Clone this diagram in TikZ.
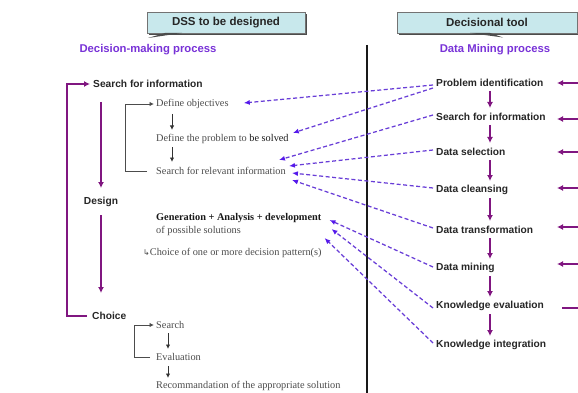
\documentclass[tikz,border=0pt]{standalone}
\usepackage{fontspec}
\setmainfont{Liberation Serif}
\setsansfont{Liberation Sans}
\newfontfamily\symfont{DejaVu Sans}
\usetikzlibrary{arrows.meta}

\definecolor{plum}{RGB}{128,22,128}
\definecolor{linkviolet}{RGB}{105,62,215}
\definecolor{linktip}{RGB}{85,25,235}
\definecolor{headviolet}{RGB}{120,50,215}
\definecolor{calloutfill}{RGB}{200,232,236}
\definecolor{serifgray}{RGB}{75,75,75}

\tikzset{
  heading/.style={font=\sffamily\bfseries\fontsize{11.3}{13}\selectfont, text=headviolet, inner sep=0pt},
  boxtitle/.style={font=\sffamily\bfseries\fontsize{11.5}{13}\selectfont, text=black!85, inner sep=0pt},
  stage/.style={font=\sffamily\bfseries\fontsize{10.2}{12}\selectfont, text=black!85, anchor=west, inner sep=0pt},
  task/.style={font=\fontsize{10.3}{12}\selectfont, text=serifgray, anchor=west, inner sep=0pt},
  flow/.style={plum, line width=1.8pt, -{Latex[length=6pt,width=6pt]}},
  bracket/.style={plum, line width=2.3pt, line join=miter},
  substep/.style={black!80, line width=0.9pt, -{Latex[length=4.5pt,width=4.5pt]}},
  subbracket/.style={black!70, line width=0.9pt, -{Latex[length=4.5pt,width=4.5pt]}},
  link/.style={linkviolet, line width=1.25pt, dash pattern=on 4pt off 2.5pt,
    -{Latex[length=6pt,width=5pt,color=linktip]}},
  callout/.style={fill=calloutfill, draw=black!55, line width=0.6pt},
  callshadow/.style={fill=black!70, draw=none}
}

\begin{document}
\begin{tikzpicture}[x=1pt,y=-1pt]
\useasboundingbox (0,0) rectangle (578,393);

% callout boxes
\fill[callshadow] (149,14) rectangle (307,35);
\draw[callout] (147,12) rectangle (305,33);
\fill[callshadow] (165,33) -- (182,33) -- (148,38) -- cycle;
\node[boxtitle] (dss) at (226,22.5) {DSS to be designed};

\fill[callshadow] (399,14) rectangle (578,35);
\draw[callout] (397,12) rectangle (577,33);
\fill[callshadow] (470,33) -- (490,33) -- (503,37.5) -- cycle;
\node[boxtitle] (tool) at (487,22.5) {Decisional tool};

% column headings
\node[heading] (dmp) at (148,50) {Decision-making process};
\node[heading] (dmining) at (495,50) {Data Mining process};

% divider
\coordinate (divtop) at (367,45);
\coordinate (divbot) at (367,395);
\draw[black!90, line width=1.6pt] (divtop) -- (divbot);

% decision-making stages
\node[stage] (sfi) at (93,84) {Search for information};
\node[stage, anchor=center] (design) at (101,202) {Design};
\node[stage] (choice) at (92,316) {Choice};

\node[task] (obj) at (156,104) {Define objectives};
\node[task] (prob) at (156,139) {Define the problem to \textcolor{black!90}{be solved}};
\node[task] (rel) at (156,171) {Search for relevant information};
\node[task, font=\bfseries\fontsize{10.3}{12}\selectfont, text=black!90] (gen) at (156,218) {Generation + Analysis + development};
\node[task] (poss) at (156,231) {of possible solutions};
\node[task] (pat) at (143,253) {{\symfont\fontsize{8}{9}\selectfont ↳}Choice of one or more decision pattern(s)};
\node[task] (srch) at (156,325) {Search};
\node[task] (eval) at (156,357) {Evaluation};
\node[task] (rec) at (156,386) {Recommandation of the appropriate solution};

% purple outer loop
\coordinate (lb) at (67,0);
\draw[bracket, -{Latex[length=6pt,width=6pt]}] ([xshift=-5pt]choice.west) -- (choice.west -| lb) -- (sfi.west -| lb) -- ([xshift=-3pt]sfi.west);
\draw[flow] ([yshift=100pt]design.center) -- ([yshift=14pt]design.center);
\draw[flow] ([yshift=-13pt]design.center) -- ([yshift=-91pt]design.center);

% black sub-brackets
\coordinate (sb1) at (125,0);
\draw[subbracket] ([xshift=-9pt]rel.west) -- (rel.west -| sb1) -- (obj.west -| sb1) -- ([xshift=-2pt]obj.west);
\coordinate (sb2) at (134,0);
\draw[subbracket] ([xshift=-6pt]eval.west) -- (eval.west -| sb2) -- (srch.west -| sb2) -- ([xshift=-2pt]srch.west);

\coordinate (ax1) at (172,0);
\draw[substep] ([yshift=-10pt]obj.west -| ax1) -- ([yshift=9pt]prob.west -| ax1);
\draw[substep] ([yshift=-8pt]prob.west -| ax1) -- ([yshift=9pt]rel.west -| ax1);
\coordinate (ax2) at (168,0);
\draw[substep] ([yshift=-8pt]srch.west -| ax2) -- ([yshift=8pt]eval.west -| ax2);
\draw[substep] ([yshift=-9pt]eval.west -| ax2) -- ([yshift=8pt]rec.west -| ax2);

% data mining process
\node[stage] (r1) at (436,83) {Problem identification};
\node[stage] (r2) at (436,117) {Search for information};
\node[stage] (r3) at (436,152) {Data selection};
\node[stage] (r4) at (436,190) {Data cleansing};
\node[stage] (r5) at (436,230) {Data transformation};
\node[stage] (r6) at (436,268) {Data mining};
\node[stage] (r7) at (436,306) {Knowledge evaluation};
\node[stage] (r8) at (436,345) {Knowledge integration};

\coordinate (col) at (490,0);
\foreach \a/\b in {r1/r2,r2/r3,r3/r4,r4/r5,r5/r6,r6/r7,r7/r8}
  \draw[flow] ([yshift=-8pt]\a.west -| col) -- ([yshift=9pt]\b.west -| col);

% incoming feedback arrows on the right edge
\foreach \i/\y in {1/83,2/119,3/152,4/188,5/227,6/264} {
  \coordinate (in\i) at (580,\y);
  \coordinate (tip\i) at (557,\y);
  \draw[flow] (in\i) -- (tip\i);
}
\coordinate (in7) at (580,308);
\coordinate (tip7) at (562,308);
\draw[plum, line width=1.8pt] (in7) -- (tip7);

% dashed links between the two processes
\draw[link] ([xshift=-3pt,yshift=-2pt]r1.west) -- ([xshift=15pt,yshift=1pt]obj.east);
\draw[link] ([xshift=-3pt,yshift=-5pt]r1.west) -- ([xshift=4pt,yshift=6pt]prob.east);
\draw[link] ([xshift=-3pt,yshift=2pt]r2.west) -- ([xshift=-7pt,yshift=11pt]rel.east);
\draw[link] ([xshift=-3pt,yshift=2pt]r3.west) -- ([xshift=3pt,yshift=5pt]rel.east);
\draw[link] ([xshift=-3pt,yshift=2pt]r4.west) -- ([xshift=6pt,yshift=-2pt]rel.east);
\draw[link] ([xshift=-3pt,yshift=2pt]r5.west) -- ([xshift=6pt,yshift=-9pt]rel.east);
\draw[link] ([xshift=-3pt,yshift=1pt]r6.west) -- ([xshift=8pt,yshift=-2pt]gen.east);
\draw[link] ([xshift=-3pt,yshift=-2pt]r7.west) -- ([xshift=10pt,yshift=-11pt]gen.east);
\draw[link] ([xshift=-3pt,yshift=2pt]r8.west) -- ([xshift=3pt,yshift=-20pt]gen.east);

\end{tikzpicture}
\end{document}
